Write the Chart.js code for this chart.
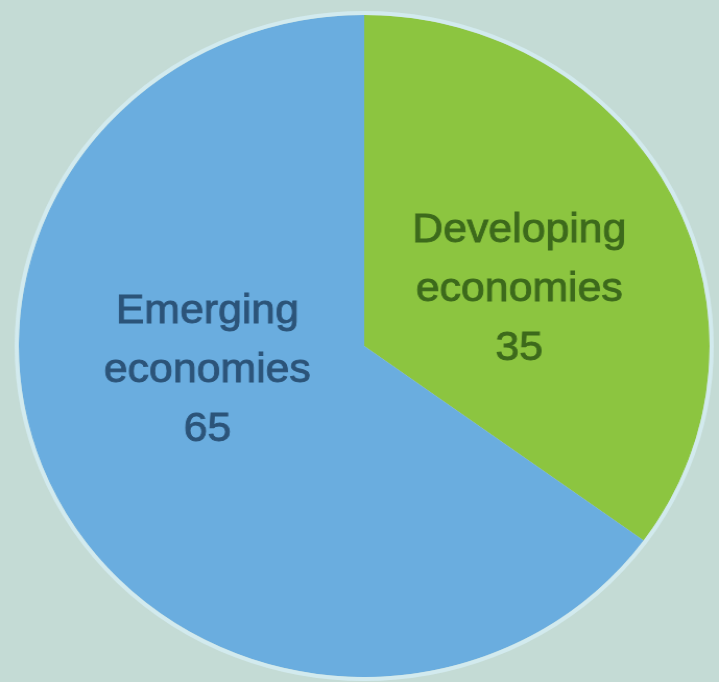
<!DOCTYPE html>
<html>
<head>
<meta charset="utf-8">
<script src="https://cdn.jsdelivr.net/npm/chart.js@4/dist/chart.umd.min.js"></script>
<style>
  html, body { margin: 0; padding: 0; background: #c4dbd5; overflow: hidden; }
  /* the artwork is slightly wider than tall, so the drawing is stretched sideways */
  #wrap { width: 689px; height: 682px; transform: scaleX(1.0435); transform-origin: 0 0; }
  #pie { display: block; }
</style>
</head>
<body>
<div id="wrap"><canvas id="pie" width="689" height="682"></canvas></div>
<script>
// Share of economies by group
const categories = ['Developing economies', 'Emerging economies'];
const labelLines = [['Developing', 'economies'], ['Emerging', 'economies']];
const values = [35, 65];
const sliceColors = ['#8cc540', '#6aaddf'];
const textColors = ['#3d6a1c', '#2c5479'];
// where each label sits: fraction along its slice, fraction of the radius
const labelSpots = [[0.55, 0.48], [0.576, 0.46]];

// value labels drawn inside each slice
const sliceLabels = {
  id: 'sliceLabels',
  afterDatasetsDraw(chart) {
    const ctx = chart.ctx;
    const meta = chart.getDatasetMeta(0);
    meta.data.forEach((arc, i) => {
      const p = arc.getProps(['x', 'y', 'startAngle', 'endAngle', 'outerRadius'], true);
      const a = p.startAngle + labelSpots[i][0] * (p.endAngle - p.startAngle);
      const r = labelSpots[i][1] * p.outerRadius;
      const cx = p.x + Math.cos(a) * r;
      const cy = p.y + Math.sin(a) * r;
      const lines = labelLines[i].concat([String(chart.data.datasets[0].data[i])]);
      const lh = 59;
      ctx.save();
      ctx.font = '41px "Liberation Sans", Arial, sans-serif';
      ctx.fillStyle = textColors[i];
      ctx.strokeStyle = textColors[i];
      ctx.lineWidth = 0.9;
      ctx.textAlign = 'center';
      ctx.textBaseline = 'middle';
      lines.forEach((t, k) => {
        ctx.fillText(t, cx, cy + (k - 1) * lh);
        ctx.strokeText(t, cx, cy + (k - 1) * lh);
      });
      ctx.restore();
    });
  }
};

// pale rim round the pie
const rim = {
  id: 'rim',
  afterDatasetsDraw(chart) {
    const arc = chart.getDatasetMeta(0).data[0];
    if (!arc) return;
    const p = arc.getProps(['x', 'y', 'outerRadius'], true);
    const ctx = chart.ctx;
    ctx.save();
    ctx.beginPath();
    ctx.arc(p.x, p.y, p.outerRadius + 2, 0, Math.PI * 2);
    ctx.strokeStyle = 'rgba(214,238,244,0.8)';
    ctx.lineWidth = 4;
    ctx.stroke();
    ctx.restore();
  }
};

new Chart(document.getElementById('pie'), {
  type: 'pie',
  data: {
    labels: categories,
    datasets: [{
      data: values,
      backgroundColor: sliceColors,
      borderWidth: 0,
      clip: false
    }]
  },
  options: {
    responsive: false,
    animation: false,
    radius: 331,
    layout: { padding: { left: 9, right: 0, top: 10, bottom: 0 } },
    plugins: {
      legend: { display: false },
      tooltip: { enabled: false },
      title: { display: false }
    }
  },
  plugins: [rim, sliceLabels]
});
</script>
</body>
</html>
